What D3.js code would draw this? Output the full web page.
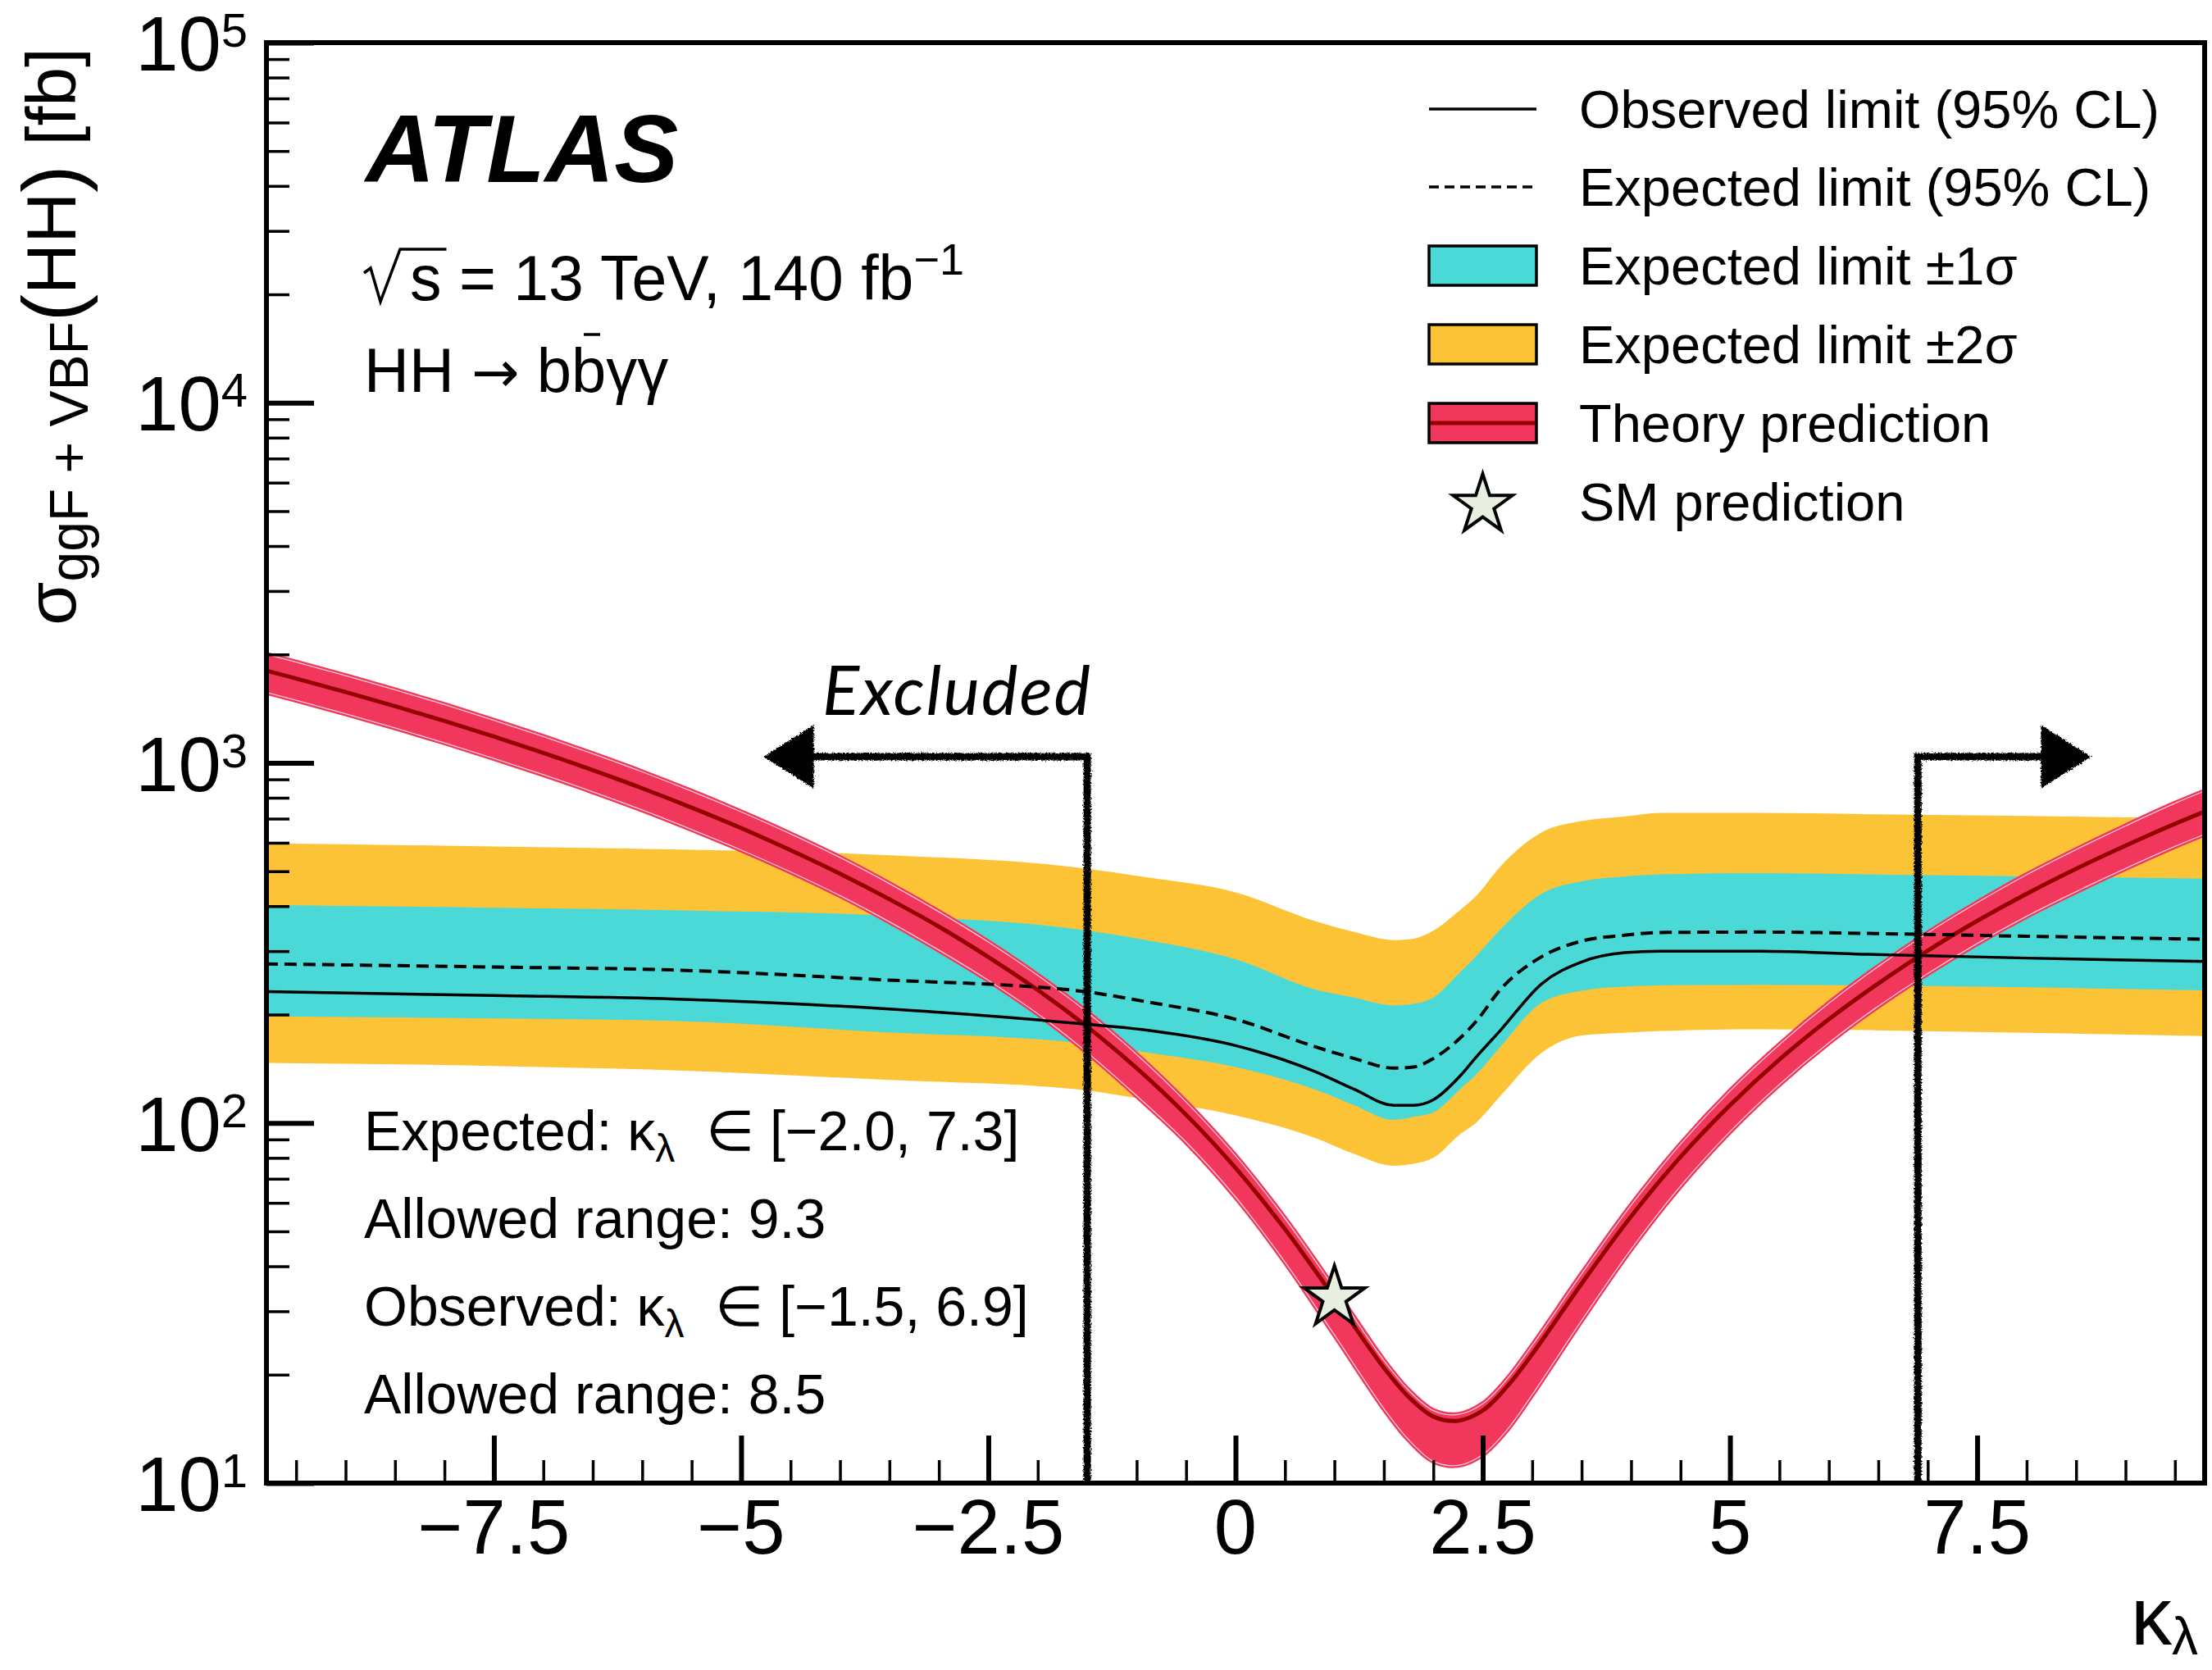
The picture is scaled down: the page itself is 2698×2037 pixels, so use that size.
<!DOCTYPE html>
<html>
<head>
<meta charset="utf-8">
<script src="https://cdn.jsdelivr.net/npm/d3@7"></script>
<style>
  html, body { margin: 0; padding: 0; background: #ffffff; }
  svg { display: block; }
  text { font-family: "Liberation Sans", Arial, Helvetica, sans-serif; fill: #000; white-space: pre; }
</style>
</head>
<body>
<svg id="chart" width="2698" height="2037"></svg>
<script>
// ---------------------------------------------------------------------------
// Data: 95% CL upper limits on sigma(ggF + VBF -> HH) versus kappa_lambda [fb]
// ---------------------------------------------------------------------------
const kappaLimit   = [-10, -7.5, -5.7, -3.6, -1.6, -0.9, 0, 0.8, 1.2, 1.6, 1.8, 2.0, 2.27, 2.43, 2.68, 3.1, 3.5, 3.93, 4.3, 5.3, 6.4, 8.0, 10];
const expPlus2     = [598, 586, 575, 555, 512, 481, 437, 364, 339, 322, 325, 342, 390, 426, 516, 642, 689, 709, 726, 726, 720, 712, 700];
const expPlus1     = [404, 396, 390, 377, 345, 322, 285, 235, 223, 212, 214, 223, 262, 290, 345, 434, 469, 483, 490, 494, 490, 484, 476];
const expMedian    = [277, 271, 266, 250, 233, 217, 194, 163, 151, 142, 143, 151, 172, 191, 235, 290, 320, 332, 338, 339, 336, 330, 323];
const observed     = [232, 226, 221, 208, 189, 181, 164, 139, 124, 112, 112, 116, 135, 152, 181, 244, 280, 297, 300, 300, 294, 287, 280];
const expMinus1    = [198, 195, 192, 179, 167, 157, 143, 124, 112, 102, 104, 107, 124, 136, 163, 216, 233, 239, 241, 242, 241, 238, 233];
const expMinus2    = [147, 144, 140, 132, 124, 116, 105, 91, 82, 76, 77, 80, 93, 100, 119, 157, 175, 178, 180, 182, 181, 178, 174];

// Theory prediction and its uncertainty band [fb]
const kappaTheory  = [-10, -9.5, -9, -8.5, -8, -7.5, -7, -6.5, -6, -5.5, -5, -4.5, -4, -3.5, -3, -2.5, -2, -1.5, -1, -0.5, 0, 0.5, 1, 1.5,
                      1.75, 2, 2.25, 2.5, 2.75, 3, 3.5, 4, 4.5, 5, 5.5, 6, 6.5, 7, 7.5, 8, 8.5, 9, 9.5, 10];
const theoryCentral = [1863, 1715, 1573, 1437, 1307, 1183, 1066, 955, 850, 751, 659, 572, 492, 418, 351, 289, 234, 185, 142, 105.4, 75.0, 50.7, 32.7, 20.9,
                       17.35, 15.3, 14.9, 15.9, 18.6, 22.8, 35.8, 55.0, 80.5, 112, 150, 194, 244, 301, 364, 433, 508, 589, 677, 770];
const theoryUp     = [2068, 1904, 1746, 1595, 1451, 1313, 1183, 1060, 944, 834, 731, 635, 546, 462, 386, 318, 257, 203, 155, 114.4, 81.0, 54.3, 34.7, 21.9,
                      18.1, 15.9, 15.5, 16.6, 19.5, 24.1, 38.1, 59.1, 87.3, 122.6, 165, 215, 272, 337, 409, 489, 574, 668, 772, 878];
const theoryDown   = [1621, 1492, 1369, 1250, 1137, 1029, 927, 831, 740, 653, 573, 498, 428, 362, 302, 249, 201, 157, 119, 88.5, 62.3, 41.1, 25.8, 16.1,
                      13.2, 11.5, 11.2, 12.0, 14.1, 17.6, 28.3, 44.6, 66.8, 94.6, 128, 167, 211, 260, 315, 375, 439, 509, 586, 666];

// Standard Model point
const smKappa = [1];
const smSigma = [32.7];

// Observed excluded region: kappa_lambda outside [-1.5, 6.9]
const observedInterval = [-1.5, 6.9];
const arrowTips = [-4.75, 8.63];
const arrowLevel = 1040;

// Axis ticks and labels
const xMajorTicks = [-7.5, -5, -2.5, 0, 2.5, 5, 7.5];
const xTickLabels = ["\u22127.5", "\u22125", "\u22122.5", "0", "2.5", "5", "7.5"];
const yDecades = [1e1, 1e2, 1e3, 1e4, 1e5];
const yExponents = ["1", "2", "3", "4", "5"];

// Legend entries
const legendLabels = ["Observed limit (95% CL)", "Expected limit (95% CL)", "Expected limit \u00b11\u03c3",
                      "Expected limit \u00b12\u03c3", "Theory prediction", "SM prediction"];

// Text block
const rangeLines = [
  {pre: "Expected: \u03ba", sub: "\u03bb", post: "\u00a0\u00a0\u2208 [\u22122.0, 7.3]"},
  {pre: "Allowed range: 9.3"},
  {pre: "Observed: \u03ba", sub: "\u03bb", post: "\u00a0\u00a0\u2208 [\u22121.5, 6.9]"},
  {pre: "Allowed range: 8.5"}
];

// ---------------------------------------------------------------------------
const W = 2698, H = 2037;
const plot = {left: 325, right: 2689, top: 52, bottom: 1809};
const ORANGE = "#fcc337", CYAN = "#4bd9d8", RED = "#f1385c", DARKRED = "#950000", STAR = "#e7f0e0";

const svg = d3.select("#chart");
svg.append("rect").attr("width", W).attr("height", H).attr("fill", "#fff");

const defs = svg.append("defs");
defs.append("clipPath").attr("id", "plotClip")
  .append("rect").attr("x", plot.left).attr("y", plot.top)
  .attr("width", plot.right - plot.left).attr("height", plot.bottom - plot.top);
const chalk = defs.append("filter").attr("id", "chalk")
  .attr("filterUnits", "userSpaceOnUse").attr("x", 0).attr("y", 0).attr("width", W).attr("height", H);
chalk.append("feTurbulence").attr("type", "fractalNoise").attr("baseFrequency", 0.55)
  .attr("numOctaves", 2).attr("seed", 7).attr("result", "noise");
chalk.append("feDisplacementMap").attr("in", "SourceGraphic").attr("in2", "noise")
  .attr("scale", 5).attr("xChannelSelector", "R").attr("yChannelSelector", "G");

const x = d3.scaleLinear().domain([-9.8, 9.8]).range([plot.left, plot.right]);
const y = d3.scaleLog().domain([10, 1e5]).range([plot.bottom, plot.top]);

const g = svg.append("g").attr("clip-path", "url(#plotClip)");

// Expected-limit bands
const band = (lo, hi, ks, curve) => d3.area()
  .x((d, i) => x(ks[i])).y0((d, i) => y(lo[i])).y1((d, i) => y(hi[i])).curve(curve);
g.append("path").datum(kappaLimit).attr("d", band(expMinus2, expPlus2, kappaLimit, d3.curveMonotoneX)).attr("fill", ORANGE);
g.append("path").datum(kappaLimit).attr("d", band(expMinus1, expPlus1, kappaLimit, d3.curveMonotoneX)).attr("fill", CYAN);

// Theory band with its central line
const thBand = band(theoryDown, theoryUp, kappaTheory, d3.curveCatmullRom);
g.append("path").datum(kappaTheory).attr("d", thBand)
  .attr("fill", RED).attr("stroke", RED).attr("stroke-width", 6).attr("stroke-linejoin", "round");
const line = (vals, ks, curve) => d3.line().x((d, i) => x(ks[i])).y((d, i) => y(vals[i])).curve(curve);
[theoryUp, theoryDown].forEach(v => {
  g.append("path").datum(kappaTheory).attr("d", line(v, kappaTheory, d3.curveCatmullRom))
    .attr("fill", "none").attr("stroke", "rgba(255,228,235,0.85)").attr("stroke-width", 1.3);
});
g.append("path").datum(kappaTheory).attr("d", line(theoryCentral, kappaTheory, d3.curveCatmullRom))
  .attr("fill", "none").attr("stroke", DARKRED).attr("stroke-width", 5);

// Expected and observed limits
g.append("path").datum(kappaLimit).attr("d", line(expMedian, kappaLimit, d3.curveMonotoneX))
  .attr("fill", "none").attr("stroke", "#000").attr("stroke-width", 4).attr("stroke-dasharray", "15,8");
g.append("path").datum(kappaLimit).attr("d", line(observed, kappaLimit, d3.curveMonotoneX))
  .attr("fill", "none").attr("stroke", "#000").attr("stroke-width", 3.5);

// Excluded-region markers (hand-drawn look)
const ex = svg.append("g").attr("filter", "url(#chalk)");
const headLen = 57, headHalf = 36;
observedInterval.forEach((k, i) => {
  const xv = x(k), yl = y(arrowLevel), xt = x(arrowTips[i]);
  const dir = xt < xv ? 1 : -1;           // +1: arrow points left
  const xb = xt + dir * headLen;
  ex.append("path")
    .attr("d", `M${xv},${y(10)} L${xv},${yl} L${xb},${yl}`)
    .attr("fill", "none").attr("stroke", "#000").attr("stroke-width", 9).attr("stroke-linejoin", "miter");
  ex.append("path")
    .attr("d", `M${xt},${yl} L${xb},${yl - headHalf} L${xb},${yl + headHalf} Z`)
    .attr("fill", "#000").attr("stroke", "#000").attr("stroke-width", 3);
});
svg.append("text").attr("x", 1003).attr("y", 872)
  .style("font-family", "Lato, 'Open Sans', sans-serif").style("font-style", "italic").style("font-weight", 400)
  .style("letter-spacing", "2px").attr("font-size", 84).text("Excluded");

// SM prediction star
const starSym = d3.symbol().type(d3.symbolStar);
svg.selectAll(".sm").data(smKappa).join("path").attr("class", "sm")
  .attr("transform", (d, i) => `translate(${x(d)},${y(smSigma[i])})`)
  .attr("d", starSym.size(1707)())
  .attr("fill", STAR).attr("stroke", "#000").attr("stroke-width", 4).attr("stroke-linejoin", "miter");

// ---------------------------------------------------------------------------
// Axes
const yMinor = [];
for (let e = 1; e < 5; e++) for (let m = 2; m <= 9; m++) yMinor.push(m * Math.pow(10, e));
const xMinor = d3.range(-19, 20).map(v => v * 0.5).filter(v => !xMajorTicks.includes(v));

function tickAxis(axis, tr, width) {
  const a = svg.append("g").attr("transform", tr).call(axis);
  a.select(".domain").remove();
  a.selectAll(".tick line").attr("stroke", "#000").attr("stroke-width", width);
  a.selectAll(".tick text").remove();
}
tickAxis(d3.axisLeft(y).tickValues(yMinor).tickSize(-28).tickFormat(""), `translate(${plot.left},0)`, 3.5);
tickAxis(d3.axisLeft(y).tickValues(yDecades).tickSize(-58).tickFormat(""), `translate(${plot.left},0)`, 6);
tickAxis(d3.axisBottom(x).tickValues(xMinor).tickSize(-28).tickFormat(""), `translate(0,${plot.bottom})`, 3.5);
tickAxis(d3.axisBottom(x).tickValues(xMajorTicks).tickSize(-58).tickFormat(""), `translate(0,${plot.bottom})`, 6);

svg.append("rect").attr("x", plot.left).attr("y", plot.top)
  .attr("width", plot.right - plot.left).attr("height", plot.bottom - plot.top)
  .attr("fill", "none").attr("stroke", "#000").attr("stroke-width", 6);

// x tick labels
svg.selectAll(".xl").data(xMajorTicks).join("text").attr("class", "xl")
  .attr("x", d => x(d)).attr("y", 1895).attr("text-anchor", "middle").attr("font-size", 94)
  .text((d, i) => xTickLabels[i]);

// y tick labels 10^n
yDecades.forEach((v, i) => {
  const t = svg.append("text").attr("x", 302).attr("y", y(v) + 34).attr("text-anchor", "end").attr("font-size", 94);
  t.append("tspan").text("10");
  t.append("tspan").attr("font-size", 58).attr("dy", -29).text(yExponents[i]);
});

// axis titles
const yt = svg.append("text").attr("transform", "translate(92,58) rotate(-90)").attr("text-anchor", "end").attr("font-size", 86);
yt.append("tspan").text("\u03c3");
yt.append("tspan").attr("font-size", 66).attr("dy", 15).text("ggF + VBF");
yt.append("tspan").attr("font-size", 100).attr("dy", -9).text("(");
yt.append("tspan").attr("dy", -6).text("HH");
yt.append("tspan").attr("font-size", 100).attr("dy", 6).text(")");
yt.append("tspan").attr("dy", -6).text(" [fb]");

const xt = svg.append("text").attr("x", 2681).attr("y", 2006).attr("text-anchor", "end").attr("font-size", 100);
xt.append("tspan").text("\u03ba");
xt.append("tspan").attr("font-size", 64).attr("dy", 12).text("\u03bb");

// ---------------------------------------------------------------------------
// Labels
svg.append("text").attr("x", 446).attr("y", 222).attr("font-size", 117)
  .style("font-weight", "bold").style("font-style", "italic").text("ATLAS");

const sq = svg.append("text").attr("x", 500).attr("y", 366).attr("font-size", 77);
sq.append("tspan").text("s = 13 TeV, 140 fb");
sq.append("tspan").attr("font-size", 54).attr("dy", -31).text("\u22121");
{
  const n = sq.node();
  const s0 = n.getStartPositionOfChar(0).x, s1 = n.getEndPositionOfChar(0).x;
  svg.append("path")
    .attr("d", `M${s0 - 56},333 L${s0 - 48},327 L${s0 - 36},368 L${s0 - 12},304 L${s1 + 6},304`)
    .attr("fill", "none").attr("stroke", "#000").attr("stroke-width", 3.5).attr("stroke-linejoin", "miter");
}

const hh = svg.append("text").attr("x", 444).attr("y", 478).attr("font-size", 76);
hh.append("tspan").text("HH ");
hh.append("tspan").style("font-family", "'DejaVu Sans', sans-serif").attr("font-size", 70).text("\u2192");
hh.append("tspan").text(" bb\u03b3\u03b3");
{
  const n = hh.node();
  const b0 = n.getStartPositionOfChar(6).x, b1 = n.getEndPositionOfChar(6).x;
  const c = (b0 + b1) / 2 + 4;
  svg.append("line").attr("x1", c - 10).attr("x2", c + 10).attr("y1", 408).attr("y2", 408)
    .attr("stroke", "#000").attr("stroke-width", 3.5);
}

rangeLines.forEach((d, i) => {
  const t = svg.append("text").attr("x", 444).attr("y", 1403 + i * 107).attr("font-size", 68);
  t.append("tspan").text(d.pre);
  if (d.sub) {
    t.append("tspan").attr("font-size", 48).attr("dy", 14).text(d.sub);
    t.append("tspan").attr("dy", -14).text(d.post);
  }
});

// ---------------------------------------------------------------------------
// Legend
const legY = [133, 228, 324, 420, 516, 612];
const lx0 = 1743, lx1 = 1874, boxH = 48;
const leg = svg.append("g");
leg.append("line").attr("x1", lx0).attr("x2", lx1).attr("y1", legY[0]).attr("y2", legY[0])
  .attr("stroke", "#000").attr("stroke-width", 3.5);
leg.append("line").attr("x1", lx0).attr("x2", lx1).attr("y1", legY[1]).attr("y2", legY[1])
  .attr("stroke", "#000").attr("stroke-width", 3.5).attr("stroke-dasharray", "12,7");
[[CYAN, 2], [ORANGE, 3], [RED, 4]].forEach(([c, i]) => {
  leg.append("rect").attr("x", lx0).attr("y", legY[i] - boxH / 2).attr("width", lx1 - lx0).attr("height", boxH)
    .attr("fill", c).attr("stroke", "#000").attr("stroke-width", 3.5);
});
leg.append("line").attr("x1", lx0 + 2).attr("x2", lx1 - 2).attr("y1", legY[4]).attr("y2", legY[4])
  .attr("stroke", DARKRED).attr("stroke-width", 5);
leg.append("path").attr("transform", `translate(${(lx0 + lx1) / 2},${legY[5] + 4})`)
  .attr("d", d3.symbol().type(d3.symbolStar).size(1620)())
  .attr("fill", STAR).attr("stroke", "#000").attr("stroke-width", 4);
leg.selectAll(".lt").data(legendLabels).join("text").attr("class", "lt")
  .attr("x", 1926).attr("y", (d, i) => legY[i] + 23).attr("font-size", 65).text(d => d);
</script>
</body>
</html>
